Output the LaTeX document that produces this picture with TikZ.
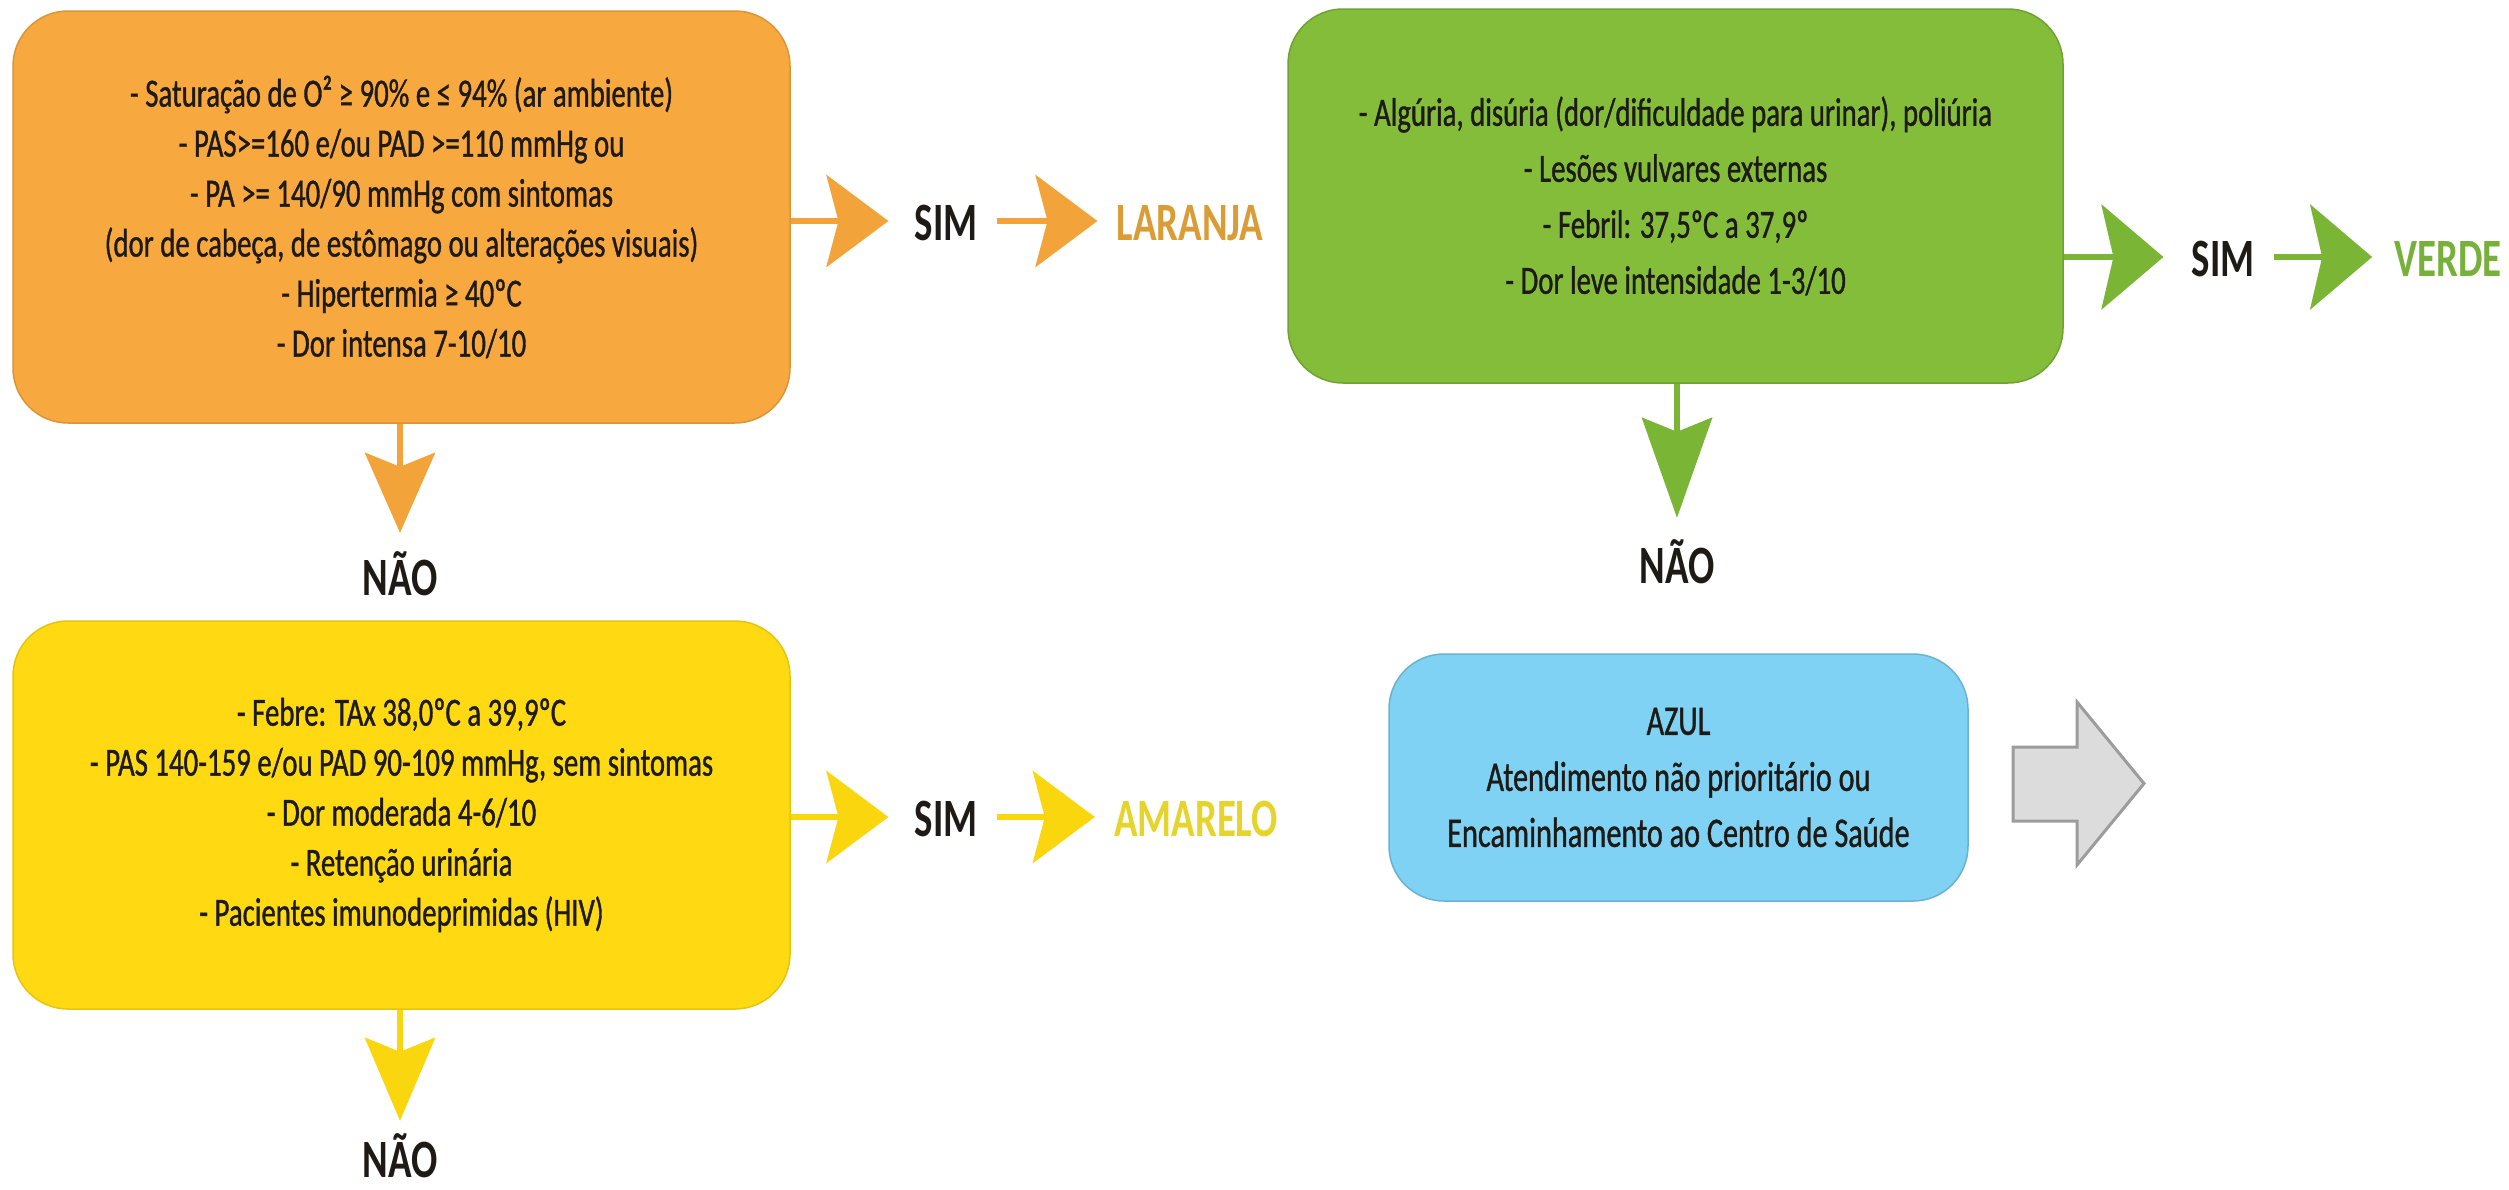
\documentclass[tikz,border=0pt]{standalone}
\usepackage{fontspec}
\setmainfont{Carlito}[FakeStretch=0.72, FakeBold=0.9]
\newfontfamily\labelfont{Carlito}[FakeStretch=0.72]
\usetikzlibrary{arrows.meta}

% fills and inks
\definecolor{orangefill}{HTML}{F7A940}
\definecolor{orangeink}{HTML}{F2A33A}
\definecolor{orangeword}{HTML}{DA9C36}
\definecolor{greenfill}{HTML}{84BD3A}
\definecolor{greenink}{HTML}{7BB536}
\definecolor{greenword}{HTML}{78B03C}
\definecolor{yellowfill}{HTML}{FFDA12}
\definecolor{yellowink}{HTML}{F9D60E}
\definecolor{yellowword}{HTML}{E6D42C}
\definecolor{bluefill}{HTML}{7FD2F4}
\definecolor{grayfill}{HTML}{DCDCDC}
\definecolor{grayedge}{HTML}{9C9C9C}
\definecolor{textdark}{HTML}{1E1A16}

\begin{document}
\begin{tikzpicture}[x=1pt,y=-1pt,
  card/.style={rounded corners=55pt, align=center, inner sep=0pt,
    text=textdark, font=\fontsize{40}{50}\selectfont, line width=1.5pt},
  tag/.style={inner sep=0pt, anchor=base, text height=38pt, text depth=0pt,
    font=\labelfont\bfseries\fontsize{54}{54}\selectfont},
  harrow/.style={-{Stealth[length=62pt,width=#1,inset=12pt]}, line width=6pt},
  harrow/.default=92pt,
  varrow/.style={-{Stealth[length=#1,width=70pt,inset=14pt]}, line width=6pt},
  varrow/.default=80pt]
\useasboundingbox (0,0) rectangle (2509,1189);

% ---------- orange criteria ----------
\node[card, fill=orangefill, draw=orangefill!88!black,
      minimum width=777pt, minimum height=412pt] (obox) at (401.5,217)
  {- Saturação de O² ≥ 90\% e ≤ 94\% (ar ambiente)\\
   - PAS>=160 e/ou PAD >=110 mmHg ou\\
   - PA >= 140/90 mmHg com sintomas\\
   (dor de cabeça, de estômago ou alterações visuais)\\
   - Hipertermia ≥ 40ºC\\
   - Dor intensa 7-10/10};
\node[tag, text=textdark] (osim) at (946,240) {SIM};
\node[tag, text=orangeword] (olaranja) at (1190,240) {LARANJA};
\node[tag, text=textdark] (onao) at (400,595) {NÃO};

\draw[harrow, orangeink, shorten >=26pt] (obox.east |- osim) -- (osim.west);
\draw[harrow, orangeink, shorten <=19pt, shorten >=19pt] (osim.east) -- (olaranja.west);
\draw[varrow, orangeink, shorten >=24pt] (obox.south -| onao) -- (onao.north);

% ---------- green criteria ----------
\node[card, fill=greenfill, draw=greenfill!85!black,
      minimum width=775pt, minimum height=374pt] (gbox) at (1675.5,196)
  {- Algúria, disúria (dor/dificuldade para urinar), poliúria\\[6pt]
   - Lesões vulvares externas\\[6pt]
   - Febril: 37,5ºC a 37,9º\\[6pt]
   - Dor leve intensidade 1-3/10};
\node[tag, text=textdark] (gsim) at (2223,276) {SIM};
\node[tag, text=greenword] (gverde) at (2448,276) {VERDE};
\node[tag, text=textdark] (gnao) at (1677,583) {NÃO};

\draw[harrow=105pt, greenink, shorten >=28pt] (gbox.east |- gsim) -- (gsim.west);
\draw[harrow=105pt, greenink, shorten <=19pt, shorten >=22pt] (gsim.east) -- (gverde.west);
\draw[varrow=100pt, greenink, shorten >=27pt] (gbox.south -| gnao) -- (gnao.north);

% ---------- yellow criteria ----------
\node[card, fill=yellowfill, draw=yellowfill!90!black,
      minimum width=777pt, minimum height=388pt] (ybox) at (401.5,815)
  {- Febre: TAx 38,0ºC a 39,9ºC\\
   - PAS 140-159 e/ou PAD 90-109 mmHg, sem sintomas\\
   - Dor moderada 4-6/10\\
   - Retenção urinária\\
   - Pacientes imunodeprimidas (HIV)};
\node[tag, text=textdark] (ysim) at (946,836) {SIM};
\node[tag, text=yellowword] (yamarelo) at (1196,836) {AMARELO};
\node[tag, text=textdark] (ynao) at (400,1177) {NÃO};

\draw[harrow, yellowink, shorten >=26pt] (ybox.east |- ysim) -- (ysim.west);
\draw[harrow, yellowink, shorten <=19pt, shorten >=19pt] (ysim.east) -- (yamarelo.west);
\draw[varrow=83pt, yellowink, shorten >=18pt] (ybox.south -| ynao) -- (ynao.north);

% ---------- blue outcome ----------
\node[card, fill=bluefill, draw=bluefill!85!black,
      font=\fontsize{42}{56}\selectfont,
      minimum width=579pt, minimum height=247pt] (bbox) at (1678.5,777.5)
  {AZUL\\
   Atendimento não prioritário ou\\
   Encaminhamento ao Centro de Saúde};

% grey block arrow
\draw[fill=grayfill, draw=grayedge, line width=3pt, line join=miter]
  (2013,747) -- (2077,747) -- (2077,702) -- (2144,783.5)
  -- (2077,865) -- (2077,821) -- (2013,821) -- cycle;
\end{tikzpicture}
\end{document}
